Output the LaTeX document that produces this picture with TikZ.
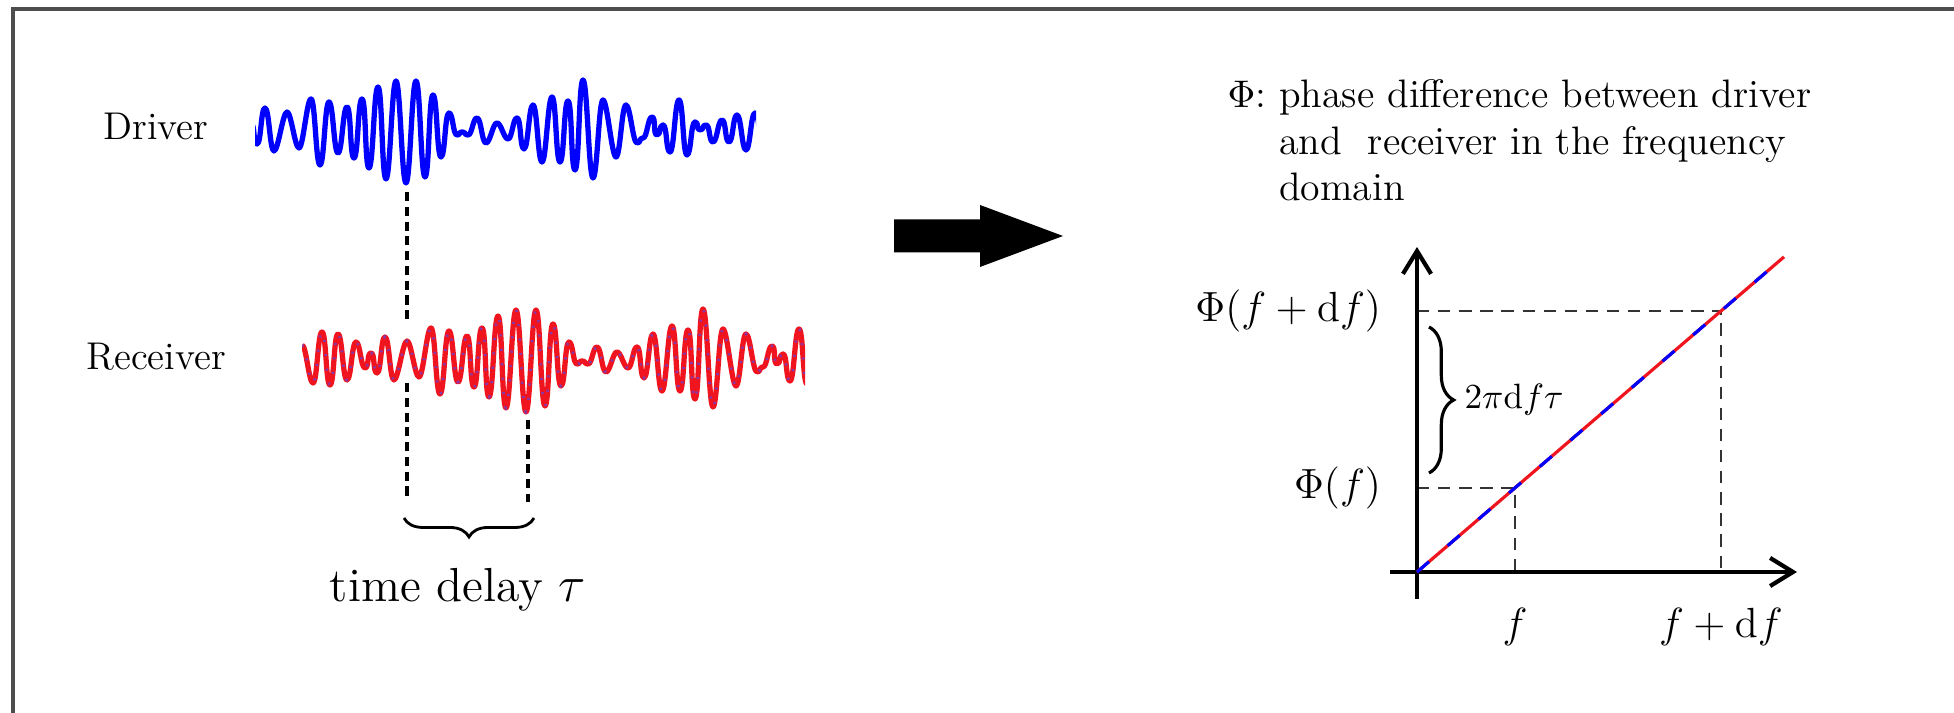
\documentclass[tikz,border=0pt]{standalone}
\usetikzlibrary{positioning,arrows.meta,decorations.pathreplacing}
\definecolor{DriverBlue}{HTML}{0000FF}
\definecolor{ReceiverRed}{HTML}{F0141E}
\definecolor{GuideGray}{HTML}{333333}
\definecolor{FrameGray}{HTML}{4D4D4D}
\tikzset{
  frameline/.style={FrameGray, line width=0.9pt},
  driverline/.style={DriverBlue, line width=1.5pt, line join=round},
  receiverline/.style={ReceiverRed, line width=1.5pt, line join=round},
  speckle/.style={DriverBlue!70, line width=0.8pt, dash pattern=on 0.6pt off 3.5pt, opacity=0.6},
  delayline/.style={black, line width=1.4pt, dash pattern=on 2.6pt off 1.6pt},
  guide/.style={GuideGray, line width=0.6pt, dash pattern=on 3.5pt off 2.5pt},
  axis/.style={black, line width=1.2pt, -{Straight Barb[length=6.5pt, width=8pt]}},
  axlabel/.style={font=\fontsize{12}{14}\selectfont, inner sep=0pt, outer sep=0pt},
  sidelabel/.style={font=\fontsize{11}{13}\selectfont, inner sep=0pt},
  curly/.style={decorate, decoration={brace, amplitude=#1}, line width=0.9pt},
}
% extrema of the recorded signal: position / deflection
\def\sigpts{193/-23, 202/28, 210/-25, 218/26, 227/-20, 236/18, 245/-8, 251/7,
  257/-13, 265/23, 274/-20, 287/19, 299/-17, 311/32, 320/-34, 329/29, 338/-22,
  347/24, 354/-27, 362/32, 369/-37, 378/44, 386/-48, 396/50, 406/-52, 416/50,
  425/-46, 433/36, 441/-26, 449/18, 457/-4, 462/-1, 468/-4, 477/13, 486/-12,
  497/8, 508/-8, 517/13, 524/-18, 533/26, 542/-31, 552/34, 560/-31, 568/30,
  575/-39, 583/51, 593/-47, 603/31, 616/-26, 626/26, 637/-12, 643/-7, 652/14,
  657/-4, 663/6, 670/-21, 679/31, 687/-24, 695/9, 700/1, 706/6, 713/-11,
  722/11, 729/-11, 737/16, 746/-19, 755/18, 763/-10}
\newcommand{\seismo}[5]{% x-shift, y-shift, window from, window to, style
  \begin{scope}[shift={(#1,#2)}]
    \clip (#3,-80) rectangle (#4,80);
    \draw[#5] (182,15) \foreach \tu/\td in \sigpts { .. controls +(4.2,0) and +(-4.2,0) .. (\tu,\td) };
  \end{scope}
}

\begin{document}
\begin{tikzpicture}[x=0.01cm, y=0.01cm]
\useasboundingbox (0,0) rectangle (1954,713);

% Frame
\draw[frameline] (13,0) -- (13,704) -- (1954,704);

% Traces
\node[sidelabel] (driverlabel) at (156,586) {Driver};
\node[sidelabel] (receiverlabel) at (156,356) {Receiver};
\seismo{0}{582}{255}{756}{driverline}
\seismo{120}{353}{182}{685}{receiverline}
\seismo{120}{353}{182}{685}{speckle}

% Picks and time delay
\coordinate (pickAtop) at (407,521);
\coordinate (pickAmid) at (407,391);
\coordinate (pickAlow) at (407,330);
\coordinate (pickAend) at (407,213);
\coordinate (pickBtop) at (528,293);
\coordinate (pickBend) at (528,211);
\draw[delayline] (pickAtop) -- (pickAmid);
\draw[delayline] (pickAlow) -- (pickAend);
\draw[delayline] (pickBtop) -- (pickBend);
\coordinate (delayright) at (534,195);
\coordinate (delayleft) at (404,195);
\draw[curly=5.4pt, line width=0.8pt] (delayright) -- (delayleft);
\node[font=\fontsize{13.6}{16}\selectfont, inner sep=0pt, anchor=base] (delaylabel) at (458,111) {time delay $\tau$};

% Big arrow
\fill[black] (894,460.5) -- (980,460.5) -- (980,446) -- (1063,477) -- (980,508) -- (980,493.5) -- (894,493.5) -- cycle;

% Description
\node[anchor=base west, inner sep=0pt, font=\fontsize{11.3}{13.1}\selectfont] (phidesc) at (1227,605)
  {\begin{tabular}[t]{@{}l@{~}l@{}}
   $\Phi$: & phase difference between driver\\
           & and~ receiver in the frequency\\
           & domain
   \end{tabular}};

% Phase plot
\coordinate (O) at (1417,141);
\coordinate (P1) at (1515,225.1);
\coordinate (P2) at (1721,402);
\coordinate (lineend) at (1784,456.1);
\coordinate (ybot) at (1417,114);
\coordinate (ytop) at (1417,466);
\coordinate (xleft) at (1390,141);
\coordinate (xright) at (1797,141);
\coordinate (L1) at (P1 -| O);
\coordinate (L2) at (P2 -| O);
\coordinate (B1) at (P1 |- O);
\coordinate (B2) at (P2 |- O);
\draw[guide] (L1) -- (P1) -- (B1);
\draw[guide] (L2) -- (P2) -- (B2);
\draw[axis] (ybot) -- (ytop);
\draw[axis] (xleft) -- (xright);
\draw[ReceiverRed, line width=0.9pt] (O) -- (lineend);
\draw[DriverBlue, line width=0.9pt, dash pattern=on 4.5pt off 7pt] (O) -- (lineend);
\node[axlabel, left=3.6mm of L1] (phif) {$\Phi(f)$};
\node[axlabel, left=3.6mm of L2] (phifdf) {$\Phi(f+\mathrm{d}f)$};
\node[axlabel, below=3.6mm of B1] (flabel) {$f$};
\node[axlabel, below=3.6mm of B2] (fdflabel) {$f+\mathrm{d}f$};
\coordinate (bracetop) at (1429,386);
\coordinate (bracebot) at (1429,240);
\draw[curly=7pt] (bracetop) -- (bracebot)
  node[midway, right=3.4mm, inner sep=0pt, font=\fontsize{10}{12}\selectfont] (phasejump) {$2\pi\mathrm{d}f\tau$};

\end{tikzpicture}
\end{document}
